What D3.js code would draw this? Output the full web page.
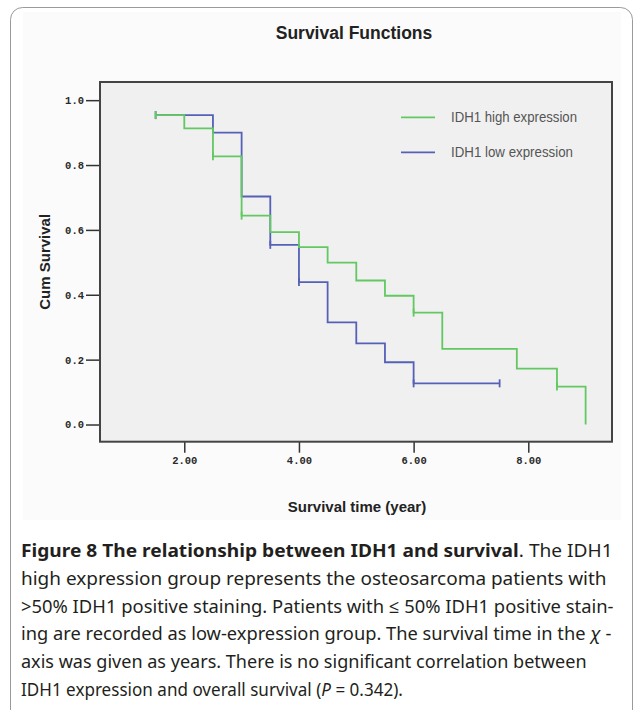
<!DOCTYPE html>
<html>
<head>
<meta charset="utf-8">
<script src="https://cdn.jsdelivr.net/npm/d3@7"></script>
<style>
  html, body { margin: 0; padding: 0; background: #fff; }
  svg { display: block; }
</style>
</head>
<body>
<svg id="chart" width="633" height="710"></svg>
<script>
// --- data ---
const highTimes = [1.5, 2.0, 2.5, 3.0, 3.5, 4.0, 4.5, 5.0, 5.5, 6.0, 6.5, 7.8, 8.5, 9.0];
const highSurv  = [0.954, 0.913, 0.827, 0.644, 0.593, 0.547, 0.499, 0.444, 0.397, 0.345, 0.233, 0.172, 0.117, 0.0];
const highCensored = [1.5, 2.5, 3.0, 6.0, 8.5];

const lowTimes = [1.5, 2.5, 3.0, 3.5, 4.0, 4.5, 5.0, 5.5, 6.0, 7.5];
const lowSurv  = [0.954, 0.90, 0.703, 0.554, 0.439, 0.315, 0.25, 0.192, 0.127, 0.127];
const lowCensored = [1.5, 3.5, 4.0, 6.0, 7.5];

const xTicks = [2, 4, 6, 8];
const yTicks = [0.0, 0.2, 0.4, 0.6, 0.8, 1.0];
const legendLabels = ["IDH1 high expression", "IDH1 low expression"];

const captionLines = [
  [{t: "Figure 8 The relationship between IDH1 and survival", b: true}, {t: ". The IDH1"}],
  [{t: "high expression group represents the osteosarcoma patients with"}],
  [{t: ">50% IDH1 positive staining. Patients with \u2264 50% IDH1 positive stain-"}],
  [{t: "ing are recorded as low-expression group. The survival time in the "}, {t: "\u03c7", i: true}, {t: " -"}],
  [{t: "axis was given as years. There is no significant correlation between"}],
  [{t: "IDH1 expression and overall survival ("}, {t: "P", i: true}, {t: " = 0.342)."}]
];
const captionWidths = [592, 586, 593, 591, 566, 382];

const green = "#62c862";
const blue = "#5561b6";

const svg = d3.select("#chart");

// outer rounded frame + chart image background
svg.append("rect").attr("x", 10.5).attr("y", 7.5).attr("width", 622).attr("height", 720)
  .attr("rx", 12).attr("fill", "#fff").attr("stroke", "#9a9a9a").attr("stroke-width", 1);
svg.append("rect").attr("x", 23).attr("y", 12).attr("width", 598).attr("height", 508).attr("fill", "#fbfbfb");

const plot = {left: 100, right: 612, top: 82, bottom: 441.7};

const x = d3.scaleLinear().domain([0.53, 9.46]).range([plot.left, plot.right]);
const y = d3.scaleLinear().domain([-0.053, 1.056]).range([plot.bottom, plot.top]);

// title
svg.append("text").attr("x", 354).attr("y", 39).attr("text-anchor", "middle")
  .style("font-family", "Liberation Sans, Arial, sans-serif").style("font-weight", "bold")
  .style("font-size", "17.5px").attr("fill", "#222").text("Survival Functions");

// plot background
svg.append("rect").attr("x", plot.left).attr("y", plot.top)
  .attr("width", plot.right - plot.left).attr("height", plot.bottom - plot.top)
  .attr("fill", "#f0f0f0");

// axes
const yAxis = svg.append("g").attr("transform", `translate(${plot.left},0)`)
  .call(d3.axisLeft(y).tickValues(yTicks).tickFormat(d3.format(".1f")).tickSize(14).tickPadding(2));
const xAxis = svg.append("g").attr("transform", `translate(0,${plot.bottom})`)
  .call(d3.axisBottom(x).tickValues(xTicks).tickFormat(d3.format(".2f")).tickSize(11).tickPadding(4));
[yAxis, xAxis].forEach(g => {
  g.select(".domain").remove();
  g.selectAll("line").attr("stroke", "#333").attr("stroke-width", 1.5);
  g.selectAll("text").attr("fill", "#2a2a2a")
    .style("font-family", "Liberation Mono, DejaVu Sans Mono, monospace")
    .style("font-weight", "bold").style("font-size", "10.5px");
});

// step curves (low first, high drawn on top)
const stepLine = d3.line().x(d => x(d[0])).y(d => y(d[1])).curve(d3.curveStepAfter);
const survAt = (times, surv, t) => {
  let v = surv[0];
  times.forEach((tt, i) => { if (tt <= t) v = surv[i]; });
  return v;
};

const series = [
  {times: lowTimes, surv: lowSurv, cens: lowCensored, color: blue},
  {times: highTimes, surv: highSurv, cens: highCensored, color: green}
];
series.forEach(s => {
  svg.append("path").datum(s.times.map((t, i) => [t, s.surv[i]]))
    .attr("d", stepLine).attr("fill", "none")
    .attr("stroke", s.color).attr("stroke-width", 1.8);
  svg.selectAll(null).data(s.cens).enter().append("line")
    .attr("x1", d => x(d)).attr("x2", d => x(d))
    .attr("y1", d => y(survAt(s.times, s.surv, d)) - 4)
    .attr("y2", d => y(survAt(s.times, s.surv, d)) + 4)
    .attr("stroke", s.color).attr("stroke-width", 1.8);
});

// plot frame
svg.append("rect").attr("x", plot.left).attr("y", plot.top)
  .attr("width", plot.right - plot.left).attr("height", plot.bottom - plot.top)
  .attr("fill", "none").attr("stroke", "#444").attr("stroke-width", 2);

// legend
const legend = svg.append("g");
[green, blue].forEach((c, i) => {
  const ly = 117.3 + i * 35;
  legend.append("line").attr("x1", 401).attr("x2", 435).attr("y1", ly).attr("y2", ly)
    .attr("stroke", c).attr("stroke-width", 1.8);
  legend.append("text").attr("x", 451).attr("y", ly + 5)
    .attr("textLength", i === 0 ? 126 : 122).attr("lengthAdjust", "spacingAndGlyphs")
    .style("font-family", "Liberation Sans, Arial, sans-serif").style("font-size", "14px")
    .attr("fill", "#555").text(legendLabels[i]);
});

// axis titles
svg.append("text").attr("transform", `translate(50,${(plot.top + plot.bottom) / 2}) rotate(-90)`)
  .attr("text-anchor", "middle")
  .style("font-family", "Liberation Sans, Arial, sans-serif").style("font-weight", "bold")
  .style("font-size", "15px").attr("fill", "#222").text("Cum Survival");
svg.append("text").attr("x", (plot.left + plot.right) / 2 + 1).attr("y", 512).attr("text-anchor", "middle")
  .style("font-family", "Liberation Sans, Arial, sans-serif").style("font-weight", "bold")
  .style("font-size", "15px").attr("fill", "#222").text("Survival time (year)");

// caption: each line squeezed horizontally to the width it has in the figure
captionLines.forEach((parts, i) => {
  const g = svg.append("g");
  const t = g.append("text").attr("x", 0).attr("y", 0)
    .style("font-family", "Noto Sans, Open Sans, sans-serif").style("font-size", "18.5px")
    .attr("fill", "#231f20");
  parts.forEach(p => {
    t.append("tspan").text(p.t)
      .style("font-weight", p.b ? "bold" : "normal")
      .style("font-style", p.i ? "italic" : "normal");
  });
  const w = t.node().getComputedTextLength();
  g.attr("transform", `translate(21,${557 + i * 27.8}) scale(${captionWidths[i] / w},1)`);
});
</script>
</body>
</html>
